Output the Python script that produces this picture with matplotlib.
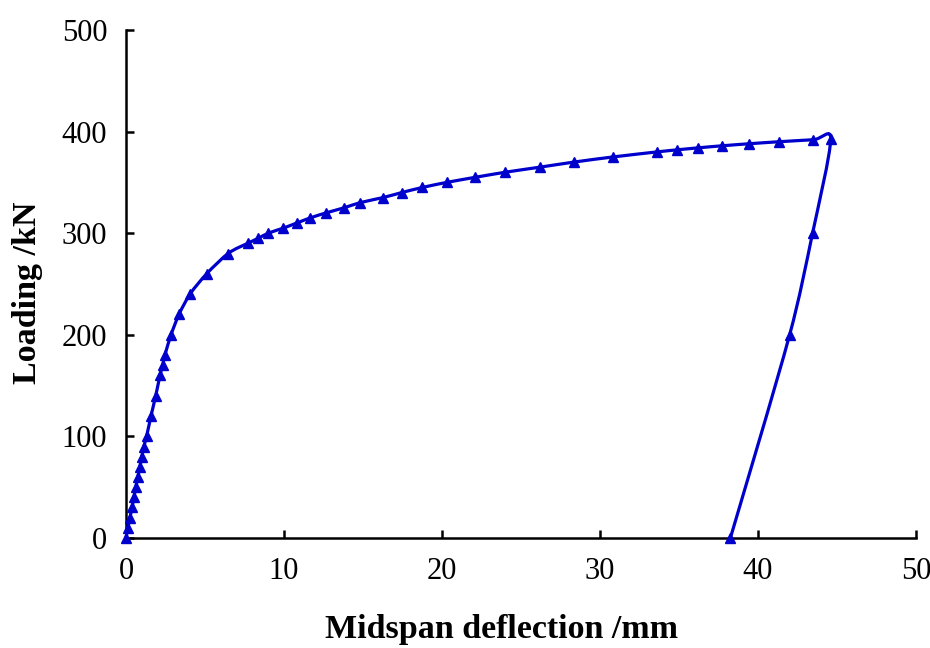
import numpy as np
import matplotlib.pyplot as plt
from matplotlib.path import Path
from matplotlib.patches import PathPatch

# load-deflection readings (midspan deflection in mm, load in kN)
deflection = [0, 0.12, 0.25, 0.38, 0.5, 0.62, 0.75, 0.88, 1.0, 1.13, 1.3,
              1.58, 1.88, 2.15, 2.32, 2.46, 2.85, 3.35, 4.05, 5.1, 6.46,
              7.7, 8.37, 9.0, 9.96, 10.8, 11.65, 12.66, 13.8, 14.8, 16.25,
              17.45, 18.75, 20.3, 22.1, 24.0, 26.2, 28.35, 30.8, 33.6,
              34.85, 36.2, 37.7, 39.4, 41.3, 43.5, 44.6,
              43.45, 42.0, 38.25]
load = [0, 10, 20, 30, 40, 50, 60, 70, 80, 90, 100,
        120, 140, 160, 170, 180, 200, 220, 240, 260, 280,
        290, 295, 300, 305, 310, 315, 320, 325, 330, 335,
        340, 345, 350, 355, 360, 365, 370, 375, 380,
        382, 384, 386, 388, 390, 392, 393,
        300, 200, 0]

xticks = [0, 10, 20, 30, 40, 50]
yticks = [0, 100, 200, 300, 400, 500]
blue = '#0000CC'

plt.rcParams['font.family'] = ['Liberation Serif', 'DejaVu Serif']

fig = plt.figure(figsize=(9.3, 6.48), dpi=100)
ax = fig.add_axes([0.1355, 0.1698, 0.8495, 0.7839])

# smoothed line like a spreadsheet "smooth line" (bezier through the points)
pts = np.column_stack([deflection, load]).astype(float)
verts = [pts[0]]
codes = [Path.MOVETO]
n = len(pts)
for i in range(n - 1):
    p0 = pts[i - 1] if i > 0 else pts[i]
    p1 = pts[i]
    p2 = pts[i + 1]
    p3 = pts[i + 2] if i + 2 < n else pts[i + 1]
    c1 = p1 + (p2 - p0) / 6.0
    c2 = p2 - (p3 - p1) / 8.0
    verts += [c1, c2, p2]
    codes += [Path.CURVE4] * 3
ax.add_patch(PathPatch(Path(verts, codes), facecolor='none', edgecolor=blue,
                       lw=2.3, clip_on=False, zorder=3))
ax.plot(deflection, load, linestyle='none', marker='^', color=blue,
        markersize=7.5, clip_on=False, zorder=4)

ax.set_xlim(0, 50)
ax.set_ylim(0, 500)
ax.set_xticks(xticks)
ax.set_yticks(yticks)
for s in ['top', 'right']:
    ax.spines[s].set_visible(False)
for s in ['left', 'bottom']:
    ax.spines[s].set_linewidth(1.8)
ax.tick_params(direction='in', length=6, width=1.8, labelsize=22)
ax.tick_params(axis='x', pad=14)
ax.tick_params(axis='y', pad=13.5)

fig.text(0.539, 0.0154, 'Midspan deflection /mm', ha='center', va='baseline',
         fontsize=24.5, fontweight='bold')
fig.text(0.030, 0.548, 'Loading /kN', ha='center', va='center', rotation=90,
         fontsize=24.5, fontweight='bold')

fig.savefig('out.png', dpi=100)
